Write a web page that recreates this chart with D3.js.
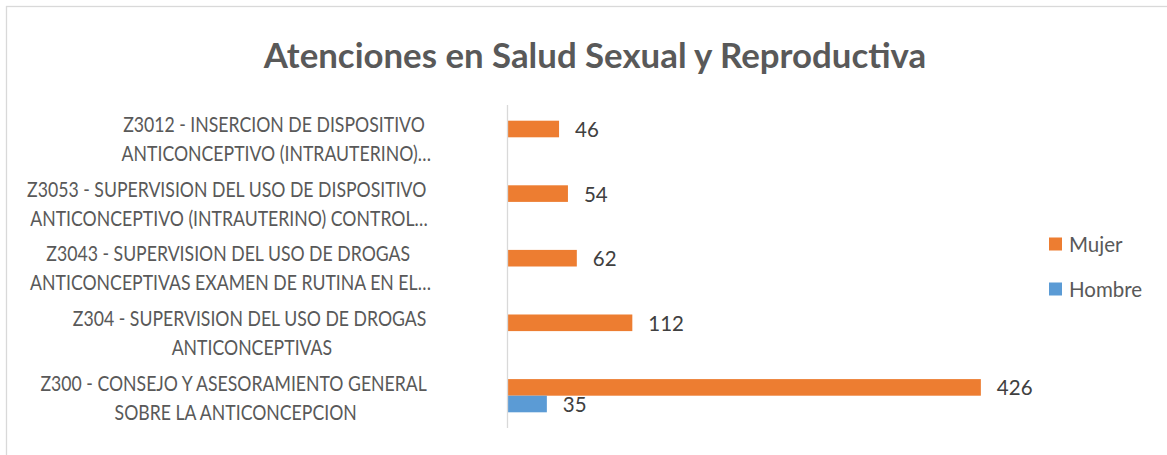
<!DOCTYPE html>
<html>
<head>
<meta charset="utf-8">
<script src="https://cdn.jsdelivr.net/npm/d3@7"></script>
<style>
  html, body { margin: 0; padding: 0; background: #fff; }
  svg { display: block; font-family: Lato, "Open Sans", sans-serif; }
</style>
</head>
<body>
<svg id="chart" width="1167" height="455"></svg>
<script>
// ---- data ----
const title = "Atenciones en Salud Sexual y Reproductiva";
const categories = ["Z3012", "Z3053", "Z3043", "Z304", "Z300"];
const categoryLabels = [
  ["Z3012 - INSERCION DE DISPOSITIVO ", "ANTICONCEPTIVO (INTRAUTERINO)…"],
  ["Z3053 - SUPERVISION DEL USO DE DISPOSITIVO ", "ANTICONCEPTIVO (INTRAUTERINO) CONTROL…"],
  ["Z3043 - SUPERVISION DEL USO DE DROGAS ", "ANTICONCEPTIVAS EXAMEN DE RUTINA EN EL…"],
  ["Z304 - SUPERVISION DEL USO DE DROGAS ", "ANTICONCEPTIVAS"],
  ["Z300 - CONSEJO Y ASESORAMIENTO GENERAL ", "SOBRE LA ANTICONCEPCION"]
];
const seriesNames = ["Mujer", "Hombre"];
const mujer = [46, 54, 62, 112, 426];
const hombre = [null, null, null, null, 35];
const seriesColors = ["#ED7D31", "#5B9BD5"];

// ---- layout ----
const svg = d3.select("#chart");
const plot = { left: 508, top: 105, bottom: 428 };

// chart border (only top/left visible in frame)
svg.append("rect")
  .attr("x", 6.5).attr("y", 6.5)
  .attr("width", 1300).attr("height", 600)
  .attr("fill", "#fff").attr("stroke", "#d9d9d9").attr("stroke-width", 1.3);

// title
svg.append("text")
  .attr("x", 595).attr("y", 68)
  .attr("text-anchor", "middle")
  .attr("font-size", 34.8).attr("font-weight", 700)
  .attr("fill", "#595959")
  .text(title);

const x = d3.scaleLinear().domain([0, 450]).range([plot.left, plot.left + 499.5]);
const y0 = d3.scaleBand().domain(categories)
  .range([plot.top, plot.bottom])
  .paddingInner(0.486).paddingOuter(0.243);
const y1 = d3.scaleBand().domain(seriesNames).range([0, y0.bandwidth()]);

const data = categories.map((c, i) => ({ cat: c, values: [mujer[i], hombre[i]] }));

const groups = svg.append("g").selectAll("g")
  .data(data).join("g")
  .attr("transform", d => `translate(0,${y0(d.cat)})`);

groups.selectAll("rect")
  .data(d => d.values.map((v, j) => ({ v, s: seriesNames[j], j })).filter(e => e.v != null))
  .join("rect")
  .attr("x", x(0))
  .attr("y", e => y1(e.s))
  .attr("width", e => x(e.v) - x(0))
  .attr("height", y1.bandwidth())
  .attr("fill", e => seriesColors[e.j]);

groups.selectAll("text.val")
  .data(d => d.values.map((v, j) => ({ v, s: seriesNames[j], j })).filter(e => e.v != null))
  .join("text")
  .attr("class", "val")
  .attr("x", e => x(e.v) + 16)
  .attr("y", e => y1(e.s) + y1.bandwidth() / 2 + 8)
  .attr("font-size", 20.5)
  .attr("fill", "#404040")
  .text(e => e.v);

// category axis line
svg.append("line")
  .attr("x1", plot.left - 0.5).attr("x2", plot.left - 0.5)
  .attr("y1", plot.top).attr("y2", plot.bottom)
  .attr("stroke", "#d9d9d9").attr("stroke-width", 1.3);

// category labels (two centred lines, block right aligned)
const labelRight = 431;
const widestTarget = 404; // pixel width of the widest wrapped line in the reference
const lab = svg.append("g").attr("font-size", 20.5).attr("fill", "#595959");
const blocks = categories.map((c, i) => {
  const cy = y0(c) + y0.bandwidth() / 2;
  const t = lab.append("text").attr("text-anchor", "middle").style("white-space", "pre");
  const spans = categoryLabels[i].map((line, k) =>
    t.append("tspan").attr("x", 0).attr("y", cy - 5 + k * 29).text(line));
  let maxW = 0;
  spans.forEach(s => { maxW = Math.max(maxW, s.node().getComputedTextLength()); });
  return { t, maxW };
});
const overall = d3.max(blocks, b => b.maxW);
const k = widestTarget / overall;
blocks.forEach(b => {
  const cx = labelRight - k * b.maxW / 2;
  b.t.attr("transform", `translate(${cx},0) scale(${k},1)`);
});

// legend
const leg = svg.append("g");
seriesNames.forEach((s, i) => {
  const ly = 244 + i * 45;
  leg.append("rect").attr("x", 1049).attr("y", ly - 6.5)
    .attr("width", 13).attr("height", 13).attr("fill", seriesColors[i]);
  leg.append("text").attr("x", 1069).attr("y", ly + 7.5)
    .attr("font-size", 20.5).attr("fill", "#595959").text(s);
});
</script>
</body>
</html>
